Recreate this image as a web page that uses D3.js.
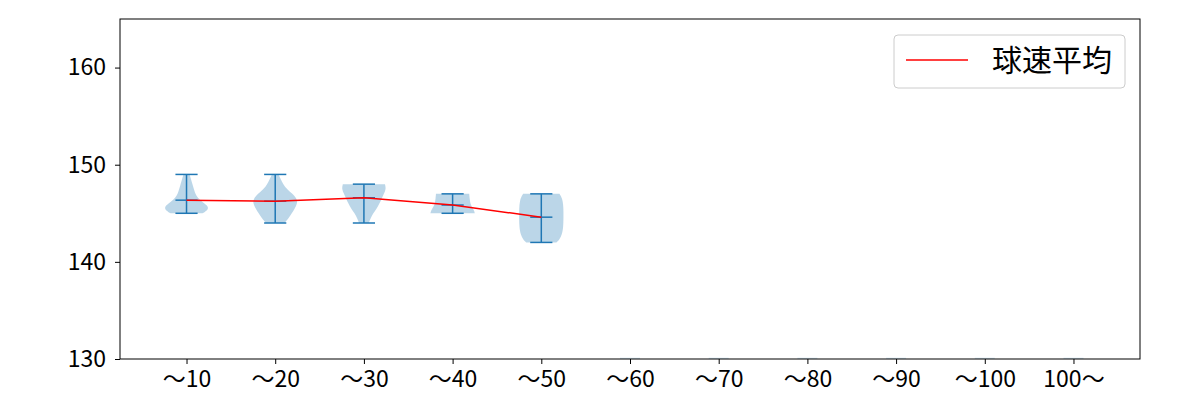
<!DOCTYPE html>
<html lang="ja">
<head>
<meta charset="UTF-8">
<title>球速平均</title>
<script src="https://cdn.jsdelivr.net/npm/d3@7"></script>
<style>
    body { margin: 0; background: #fff; }
    svg text { font-family: "Noto Sans CJK JP", "Noto Sans", sans-serif; fill: #000; }
    .tick line, .domain { stroke: #000; }
</style>
</head>
<body>
<svg width="1200" height="400"></svg>
<script>

    var categories = ["～10", "～20", "～30", "～40", "～50", "～60", "～70", "～80", "～90", "～100", "100～"];
    var yTicks = [130, 140, 150, 160];

    // min / max / mean per category (null = no pitches)
    var mins  = [145, 144, 144, 145, 142, null, null, null, null, null, null];
    var maxs  = [149, 149, 148, 147, 147, null, null, null, null, null, null];
    var means = [146.35, 146.25, 146.6, 145.85, 144.6, null, null, null, null, null, null];

    // violin outlines: [speed, relative half-width]
    var shapes = [
        [[145, 0.72], [145.4, 1.0], [145.8, 0.95], [146.2, 0.7], [146.6, 0.5], [147, 0.4], [147.5, 0.33], [148, 0.27], [148.5, 0.2], [149, 0.14]],
        [[144, 0.42], [144.5, 0.6], [145, 0.75], [145.5, 0.88], [146, 1.0], [146.5, 0.98], [147, 0.78], [147.5, 0.52], [148, 0.36], [148.5, 0.25], [149, 0.15]],
        [[144, 0.22], [144.5, 0.3], [145, 0.42], [145.5, 0.58], [146, 0.7], [146.5, 0.8], [147, 0.9], [147.5, 1.0], [148, 0.95]],
        [[145, 1.0], [145.3, 0.97], [145.7, 0.86], [146, 0.8], [146.5, 0.77], [147, 0.75]],
        [[142, 0.68], [142.3, 0.82], [142.8, 0.93], [143.5, 0.99], [144.5, 1.0], [145.5, 1.0], [146.3, 0.97], [146.8, 0.88], [147, 0.82]],
        null, null, null, null, null, null
    ];

    var svg = d3.select("svg");
    var margin = { left: 120, right: 60, top: 19, bottom: 41 };
    var width = 1200 - margin.left - margin.right,
        height = 400 - margin.top - margin.bottom;

    var g = svg.append("g").attr("transform", "translate(" + margin.left + "," + margin.top + ")");

    var x = d3.scaleLinear().domain([0.25, categories.length + 0.75]).range([0, width]);
    var y = d3.scaleLinear().domain([130, 165]).range([height, 0]);
    var halfW = x(1.25) - x(1);
    var capW = x(1.125) - x(1);

    g.append("clipPath").attr("id", "clip")
        .append("rect").attr("width", width).attr("height", height);

    var plot = g.append("g").attr("clip-path", "url(#clip)");

    // violin bodies
    var area = d3.area()
        .curve(d3.curveBasis)
        .y(function(d) { return y(d[0]); })
        .x0(function(d) { return -d[1] * halfW; })
        .x1(function(d) { return d[1] * halfW; });

    categories.forEach(function(c, i) {
        var cx = x(i + 1);
        var grp = plot.append("g").attr("transform", "translate(" + cx + ",0)");
        if (!shapes[i]) {
            // empty groups leave only a sliver at the bottom edge
            grp.append("line")
                .attr("x1", -capW * 0.9).attr("x2", capW * 0.9)
                .attr("y1", height - 0.5).attr("y2", height - 0.5)
                .attr("stroke", "#1f77b4").attr("stroke-opacity", 0.2).attr("stroke-width", 1.5);
            return;
        }
        grp.append("path")
            .datum(shapes[i])
            .attr("d", area)
            .attr("fill", "#1f77b4")
            .attr("fill-opacity", 0.3);

        var lc = "#1f77b4";
        grp.append("line").attr("x1", 0).attr("x2", 0)
            .attr("y1", y(mins[i])).attr("y2", y(maxs[i]))
            .attr("stroke", lc).attr("stroke-width", 1.5);
        [mins[i], maxs[i], means[i]].forEach(function(v) {
            grp.append("line").attr("x1", -capW).attr("x2", capW)
                .attr("y1", y(v)).attr("y2", y(v))
                .attr("stroke", lc).attr("stroke-width", 1.5);
        });
    });

    // mean line
    var meanPts = means.map(function(m, i) { return [i + 1, m]; })
        .filter(function(d) { return d[1] != null; });
    plot.append("path")
        .datum(meanPts)
        .attr("fill", "none")
        .attr("stroke", "red")
        .attr("stroke-width", 1.5)
        .attr("d", d3.line().x(function(d) { return x(d[0]); }).y(function(d) { return y(d[1]); }));

    // axes
    var xAxis = g.append("g")
        .attr("transform", "translate(0," + height + ")")
        .call(d3.axisBottom(x)
            .tickValues(d3.range(1, categories.length + 1))
            .tickFormat(function(d) { return categories[d - 1]; })
            .tickSize(5).tickPadding(6));
    xAxis.selectAll("text").style("font-size", "23px").attr("dy", "0.75em");

    var yAxis = g.append("g")
        .call(d3.axisLeft(y).tickValues(yTicks).tickSize(5).tickPadding(9));
    yAxis.selectAll("text").style("font-size", "23px");

    svg.selectAll(".domain").remove();
    g.append("rect")
        .attr("width", width).attr("height", height)
        .attr("fill", "none").attr("stroke", "#000").attr("stroke-width", 1);

    // legend
    var lg = g.append("g").attr("transform", "translate(" + (width - 246) + ",16)");
    lg.append("rect")
        .attr("width", 231).attr("height", 53).attr("rx", 4)
        .attr("fill", "#fff").attr("fill-opacity", 0.8)
        .attr("stroke", "#ccc");
    lg.append("line")
        .attr("x1", 12).attr("x2", 74).attr("y1", 25).attr("y2", 25)
        .attr("stroke", "red").attr("stroke-width", 1.5);
    lg.append("text")
        .attr("x", 98).attr("y", 25).attr("dy", "0.36em")
        .style("font-size", "30px")
        .text("球速平均");

</script>
</body>
</html>
